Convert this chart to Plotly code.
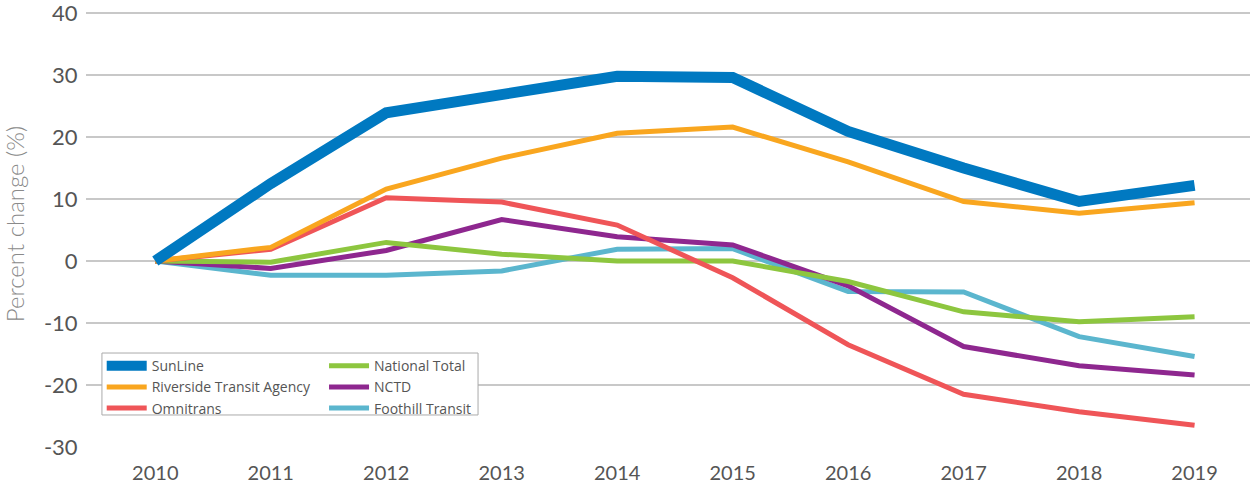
import plotly.graph_objects as go

years = [2010, 2011, 2012, 2013, 2014, 2015, 2016, 2017, 2018, 2019]
sunline = [0, 12.5, 23.9, 26.8, 29.8, 29.6, 20.9, 15.0, 9.6, 12.2]
riverside = [0, 2.2, 11.6, 16.6, 20.6, 21.6, 16.0, 9.6, 7.7, 9.4]
omnitrans = [0, 1.9, 10.2, 9.5, 5.8, -2.7, -13.5, -21.5, -24.3, -26.5]
national = [0, -0.2, 3.0, 1.1, 0.0, 0.0, -3.3, -8.2, -9.8, -9.0]
nctd = [0, -1.2, 1.7, 6.7, 3.9, 2.6, -4.0, -13.8, -16.9, -18.4]
foothill = [0, -2.3, -2.3, -1.6, 1.9, 2.0, -4.9, -5.0, -12.2, -15.4]

ytick_vals = [-30, -20, -10, 0, 10, 20, 30, 40]
ytick_text = ["-30", "-20", "-10", "0", "10", "20", "30", "40"]

# (name, values, color, width, legend column, rank)
series = [
    ("Foothill Transit", foothill, "#5BB6CE", 5, "legend2", 3),
    ("NCTD", nctd, "#8E278F", 5, "legend2", 2),
    ("National Total", national, "#8DC63F", 5, "legend2", 1),
    ("Omnitrans", omnitrans, "#EF5558", 5, "legend", 3),
    ("Riverside Transit Agency", riverside, "#F9A61F", 5, "legend", 2),
    ("SunLine", sunline, "#0079C1", 11, "legend", 1),
]

fig = go.Figure()
for name, vals, color, w, leg, rank in series:
    fig.add_trace(go.Scatter(
        x=years, y=vals, name=name, mode="lines",
        line=dict(color=color, width=w),
        legend=leg, legendrank=rank,
    ))

legend_common = dict(
    orientation="v", yanchor="top", xanchor="left",
    bgcolor="rgba(0,0,0,0)", borderwidth=0,
    font=dict(size=14, color="#555555", family="'Open Sans', Lato, sans-serif"),
    tracegroupgap=0, itemwidth=40,
)

# plot area spans y = 0..448 px; 40 sits at 13 px, -30 at 447 px
fig.update_layout(
    width=1250, height=487,
    margin=dict(l=86, r=0, t=0, b=39),
    paper_bgcolor="white", plot_bgcolor="white",
    font=dict(family="Lato, 'Open Sans', sans-serif", color="#555555"),
    showlegend=True,
    legend=dict(x=0.0135, y=0.2185, **legend_common),
    legend2=dict(x=0.2045, y=0.2185, **legend_common),
    xaxis=dict(
        range=[2009.4, 2019.48],
        tickvals=years, ticktext=[str(y) for y in years],
        showgrid=False, zeroline=False, showline=False,
        ticks="outside", ticklen=7, tickcolor="rgba(0,0,0,0)",
        tickfont=dict(size=20, color="#555555"),
    ),
    yaxis=dict(
        range=[-30.16, 42.1],
        tickvals=ytick_vals, ticktext=ytick_text,
        showgrid=True, gridcolor="#c8c8c8", gridwidth=1.5,
        zeroline=False, showline=False,
        ticks="outside", ticklen=3, tickcolor="rgba(0,0,0,0)",
        ticklabeloverflow="allow",
        tickfont=dict(size=22, color="#555555"),
        title=dict(text="Percent change (%)", font=dict(size=24, color="#8a8a8a", weight=300), standoff=14),
    ),
    shapes=[dict(
        type="rect", xref="paper", yref="paper",
        x0=0.0137, x1=0.3368, y0=0.0737, y1=0.2120,
        line=dict(color="#aaaaaa", width=1), fillcolor="white", layer="above",
    )],
)

fig.write_html("out.html", config={"displayModeBar": False},
               post_script="document.body.style.margin='0';")
